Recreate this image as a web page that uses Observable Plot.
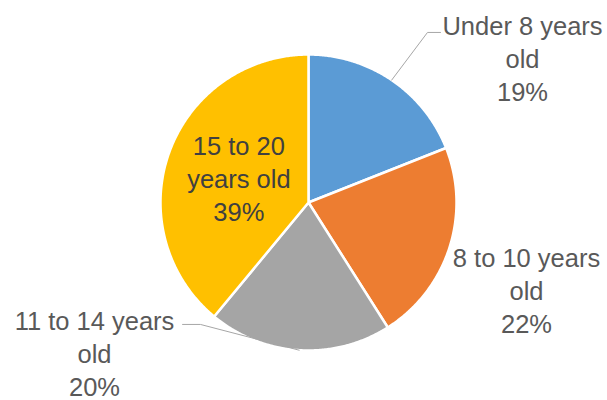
<!DOCTYPE html>
<html>
<head>
<meta charset="utf-8">
<script src="https://cdn.jsdelivr.net/npm/d3@7"></script>
<script src="https://cdn.jsdelivr.net/npm/@observablehq/plot@0.6"></script>
<style>
  html, body { margin: 0; padding: 0; background: #fff; }
</style>
</head>
<body>
<div id="chart"></div>
<script>
// ---- data ----
const categories = ["Under 8 years old", "8 to 10 years old", "11 to 14 years old", "15 to 20 years old"];
const shares = [19, 22, 20, 39];
const labelTexts = ["Under 8 years\nold\n19%", "8 to 10 years\nold\n22%", "11 to 14 years\nold\n20%", "15 to 20\nyears old\n39%"];
const colors = ["#5B9BD5", "#ED7D31", "#A5A5A5", "#FFC000"];

// ---- layout (pie units: radius = 1, y up) ----
const labelPos = [[1.446, 0.98], [1.473, -0.588], [-1.446, -1.014], null];
const leaderBends = [[[0.804, 1.149], [0.892, 1.149]], null, [[-0.73, -0.824], [-0.851, -0.824]], null];

const arcs = d3.pie().sort(null).startAngle(0).endAngle(2 * Math.PI)(shares);

// slice polygons
const slicePts = [];
arcs.forEach((a, i) => {
  const cat = categories[i];
  slicePts.push({x: 0, y: 0, cat});
  const n = Math.max(2, Math.ceil((a.endAngle - a.startAngle) / (Math.PI / 360)));
  for (let k = 0; k <= n; k++) {
    const t = a.startAngle + (a.endAngle - a.startAngle) * k / n;
    slicePts.push({x: Math.sin(t), y: Math.cos(t), cat});
  }
  slicePts.push({x: 0, y: 0, cat});
});

// labels
const labels = arcs.map((a, i) => {
  const mid = (a.startAngle + a.endAngle) / 2;
  const p = labelPos[i] || [0.5 * Math.sin(mid), 0.5 * Math.cos(mid)];
  return {x: p[0], y: p[1], text: labelTexts[i], inside: !labelPos[i]};
});

// leader lines
const leaders = [];
arcs.forEach((a, i) => {
  if (!leaderBends[i]) return;
  const mid = (a.startAngle + a.endAngle) / 2;
  const pts = [[Math.sin(mid), Math.cos(mid)], ...leaderBends[i]];
  pts.forEach(p => leaders.push({x: p[0], y: p[1], id: i}));
});

const R = 148, cx = 308, cy = 202, W = 607, H = 400;

const chart = Plot.plot({
  width: W,
  height: H,
  margin: 0,
  style: {background: "#fff"},
  x: {domain: [-cx / R, (W - cx) / R], axis: null},
  y: {domain: [-(H - cy) / R, cy / R], axis: null},
  color: {domain: categories, range: colors},
  marks: [
    Plot.line(slicePts, {x: "x", y: "y", z: "cat", fill: "cat", stroke: "#fff", strokeWidth: 2.5, strokeLinejoin: "round"}),
    Plot.line(leaders, {x: "x", y: "y", z: "id", stroke: "#A6A6A6", strokeWidth: 1}),
    Plot.text(labels, {
      x: "x", y: "y", text: "text",
      fill: d => d.inside ? "#404040" : "#595959",
      fontSize: 25.5,
      fontFamily: "Liberation Sans, Arial, sans-serif",
      lineHeight: 1.3,
      textAnchor: "middle",
      lineAnchor: "middle"
    })
  ]
});
document.getElementById("chart").appendChild(chart);
</script>
</body>
</html>
